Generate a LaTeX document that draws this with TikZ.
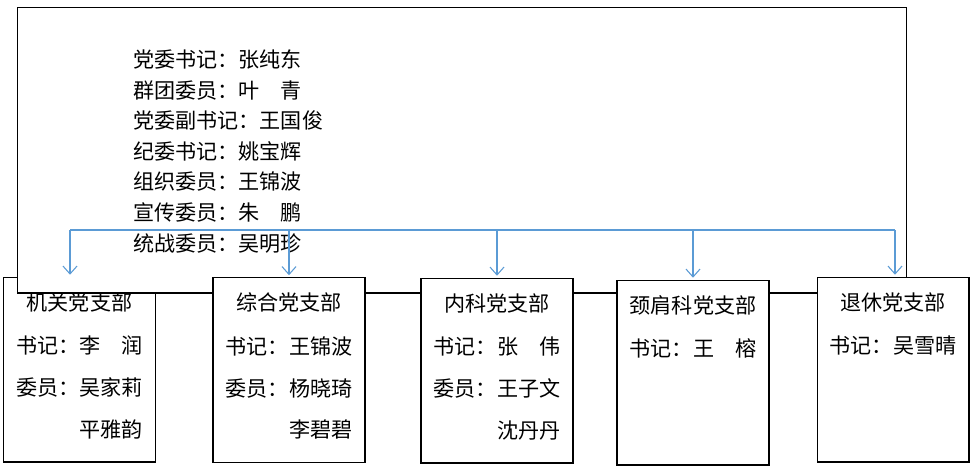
\documentclass[tikz,border=0pt]{standalone}
\usepackage{fontspec}
\setmainfont{Noto Sans CJK SC}
\usepackage{xcolor}
\usepackage{tikz}
\usetikzlibrary{positioning, arrows.meta}
\definecolor{linkblue}{RGB}{91,155,213}
\tikzset{
  frame/.style={
    rectangle, draw=black, line width=0.6pt, fill=white, inner sep=0pt
  },
  branch/.style={frame, minimum width=3.04cm, minimum height=3.7cm},
  info/.style={inner sep=0pt, align=center, font=\fontsize{12}{23.8}\selectfont},
  members/.style={inner sep=0pt, align=left, font=\fontsize{12}{17.4}\selectfont},
  link/.style={draw=linkblue, line width=0.6pt, -{Straight Barb[length=4.5pt,width=8pt]}, shorten >=1pt},
}
\begin{document}
\begin{tikzpicture}[x=0.02cm, y=-0.02cm]
  \useasboundingbox (0,0) rectangle (973,468);
  % branch boxes (first one sits behind the committee frame)
  \node[branch] (JG) at (79.5,369.5) {};
  \node[frame, minimum width=17.8cm, minimum height=5.72cm] (DW) at (462,150) {};
  \node[branch] (ZH) at (289,370) {};
  \node[branch] (NK) at (497,370.5) {};
  \node[branch] (JJ) at (693,372.5) {};
  \node[branch] (TX) at (893,369.5) {};

  \node[members, anchor=north west] (DWtext) at (133,49.5)
    {党委书记：张纯东\\群团委员：叶　青\\党委副书记：王国俊\\纪委书记：姚宝辉\\组织委员：王锦波\\宣传委员：朱　鹏\\统战委员：吴明珍};

  \node[info, below=0.31cm of JG.north] (JGtext) {机关党支部\\[1pt]书记：李　润\\委员：吴家莉\\　　　平雅韵};
  \node[info, below=0.31cm of ZH.north] (ZHtext) {综合党支部\\[1pt]书记：王锦波\\委员：杨晓琦\\　　　李碧碧};
  \node[info, below=0.31cm of NK.north] (NKtext) {内科党支部\\[1pt]书记：张　伟\\委员：王子文\\　　　沈丹丹};
  \node[info, below=0.31cm of JJ.north] (JJtext) {颈肩科党支部\\[1pt]书记：王　榕};
  \node[info, below=0.31cm of TX.north] (TXtext) {退休党支部\\[1pt]书记：吴雪晴};

  % bus line and arrows
  \coordinate (busL) at (70,230);
  \coordinate (busR) at (895,230);
  \draw[draw=linkblue, line width=0.6pt] (busL) -- (busR);
  \draw[link] (busL) -- (busL |- JG.north);
  \foreach \b in {ZH, NK, JJ}
    \draw[link] (busL -| \b.north) -- (\b.north);
  \draw[link] (busR) -- (busR |- TX.north);
\end{tikzpicture}
\end{document}
